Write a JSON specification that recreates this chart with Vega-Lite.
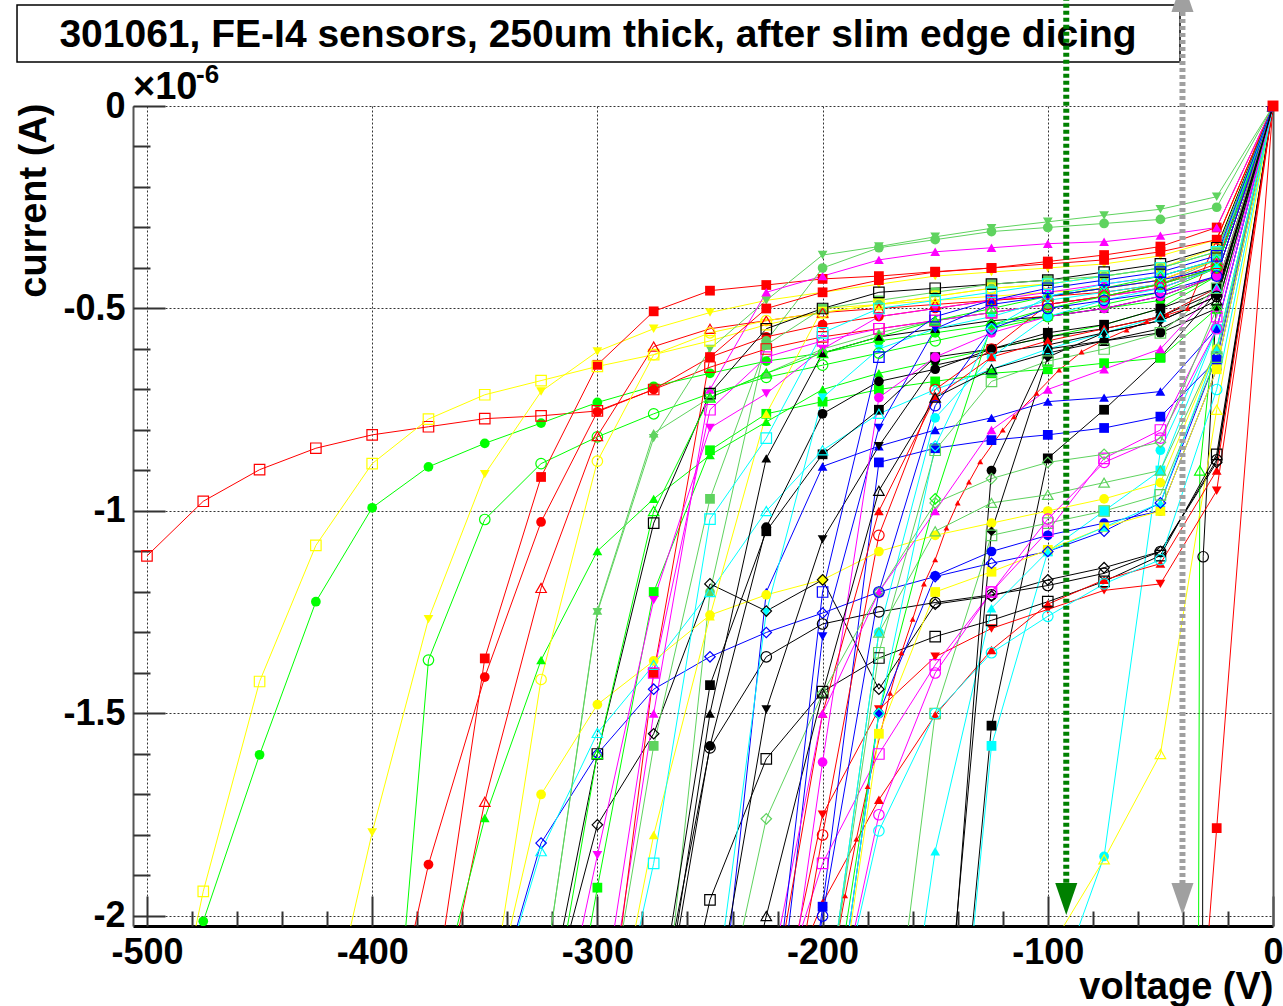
{
"$schema":"https://vega.github.io/schema/vega-lite/v6.json",
"width":1140,"height":820,
"autosize":{"type":"none"},
"padding":{"left":133,"top":106,"right":10,"bottom":80},
"background":"#ffffff",
"config":{"view":{"stroke":null},"axis":{"labelFont":"Liberation Sans","titleFont":"Liberation Sans","labelFontWeight":"bold","titleFontWeight":"bold","labelColor":"#000","titleColor":"#000"}},
"data":{"values":[
{"s":1,"v":0,"i":0},{"s":1,"v":-25,"i":-0.4},{"s":1,"v":-50,"i":-0.45},{"s":1,"v":-75,"i":-0.47},{"s":1,"v":-100,"i":-0.49},{"s":1,"v":-125,"i":-0.51},{"s":1,"v":-150,"i":-0.53},{"s":1,"v":-175,"i":-0.55},{"s":1,"v":-200,"i":-0.57},{"s":1,"v":-225,"i":-0.6},{"s":1,"v":-250,"i":-0.645},{"s":1,"v":-275,"i":-0.7},{"s":1,"v":-300,"i":-0.753},{"s":1,"v":-325,"i":-0.765},{"s":1,"v":-350,"i":-0.772},{"s":1,"v":-375,"i":-0.792},{"s":1,"v":-400,"i":-0.812},{"s":1,"v":-425,"i":-0.845},{"s":1,"v":-450,"i":-0.898},{"s":1,"v":-475,"i":-0.976},{"s":1,"v":-500,"i":-1.111},
{"s":2,"v":0,"i":0},{"s":2,"v":-25,"i":-0.36},{"s":2,"v":-50,"i":-0.4},{"s":2,"v":-75,"i":-0.42},{"s":2,"v":-100,"i":-0.44},{"s":2,"v":-125,"i":-0.45},{"s":2,"v":-150,"i":-0.47},{"s":2,"v":-175,"i":-0.49},{"s":2,"v":-200,"i":-0.51},{"s":2,"v":-225,"i":-0.54},{"s":2,"v":-250,"i":-0.58},{"s":2,"v":-275,"i":-0.614},{"s":2,"v":-300,"i":-0.643},{"s":2,"v":-325,"i":-0.678},{"s":2,"v":-350,"i":-0.713},{"s":2,"v":-375,"i":-0.773},{"s":2,"v":-400,"i":-0.883},{"s":2,"v":-425,"i":-1.085},{"s":2,"v":-450,"i":-1.421},{"s":2,"v":-475,"i":-1.939},{"s":2,"v":-500,"i":-2.6},
{"s":3,"v":0,"i":0},{"s":3,"v":-25,"i":-0.42},{"s":3,"v":-50,"i":-0.48},{"s":3,"v":-75,"i":-0.5},{"s":3,"v":-100,"i":-0.52},{"s":3,"v":-125,"i":-0.54},{"s":3,"v":-150,"i":-0.56},{"s":3,"v":-175,"i":-0.58},{"s":3,"v":-200,"i":-0.61},{"s":3,"v":-225,"i":-0.63},{"s":3,"v":-250,"i":-0.66},{"s":3,"v":-275,"i":-0.692},{"s":3,"v":-300,"i":-0.732},{"s":3,"v":-325,"i":-0.783},{"s":3,"v":-350,"i":-0.833},{"s":3,"v":-375,"i":-0.891},{"s":3,"v":-400,"i":-0.992},{"s":3,"v":-425,"i":-1.224},{"s":3,"v":-450,"i":-1.602},{"s":3,"v":-475,"i":-2.013},{"s":3,"v":-500,"i":-2.5},
{"s":4,"v":0,"i":0},{"s":4,"v":-25,"i":-0.33},{"s":4,"v":-50,"i":-0.37},{"s":4,"v":-75,"i":-0.39},{"s":4,"v":-100,"i":-0.4},{"s":4,"v":-125,"i":-0.41},{"s":4,"v":-150,"i":-0.42},{"s":4,"v":-175,"i":-0.44},{"s":4,"v":-200,"i":-0.46},{"s":4,"v":-225,"i":-0.48},{"s":4,"v":-250,"i":-0.51},{"s":4,"v":-275,"i":-0.55},{"s":4,"v":-300,"i":-0.606},{"s":4,"v":-325,"i":-0.705},{"s":4,"v":-350,"i":-0.909},{"s":4,"v":-375,"i":-1.267},{"s":4,"v":-400,"i":-1.794},{"s":4,"v":-425,"i":-2.4},
{"s":5,"v":0,"i":0},{"s":5,"v":-25,"i":-0.4},{"s":5,"v":-50,"i":-0.46},{"s":5,"v":-75,"i":-0.49},{"s":5,"v":-100,"i":-0.52},{"s":5,"v":-125,"i":-0.55},{"s":5,"v":-150,"i":-0.58},{"s":5,"v":-175,"i":-0.61},{"s":5,"v":-200,"i":-0.64},{"s":5,"v":-225,"i":-0.67},{"s":5,"v":-250,"i":-0.71},{"s":5,"v":-275,"i":-0.76},{"s":5,"v":-300,"i":-0.817},{"s":5,"v":-325,"i":-0.883},{"s":5,"v":-350,"i":-1.021},{"s":5,"v":-375,"i":-1.368},{"s":5,"v":-400,"i":-3.0},
{"s":6,"v":0,"i":0},{"s":6,"v":-25,"i":-0.3},{"s":6,"v":-50,"i":-0.347},{"s":6,"v":-75,"i":-0.368},{"s":6,"v":-100,"i":-0.384},{"s":6,"v":-125,"i":-0.4},{"s":6,"v":-150,"i":-0.409},{"s":6,"v":-175,"i":-0.42},{"s":6,"v":-200,"i":-0.427},{"s":6,"v":-225,"i":-0.442},{"s":6,"v":-250,"i":-0.456},{"s":6,"v":-275,"i":-0.507},{"s":6,"v":-300,"i":-0.639},{"s":6,"v":-325,"i":-0.916},{"s":6,"v":-350,"i":-1.364},{"s":6,"v":-375,"i":-2.3},
{"s":7,"v":0,"i":0},{"s":7,"v":-25,"i":-0.38},{"s":7,"v":-50,"i":-0.43},{"s":7,"v":-75,"i":-0.45},{"s":7,"v":-100,"i":-0.47},{"s":7,"v":-125,"i":-0.48},{"s":7,"v":-150,"i":-0.5},{"s":7,"v":-175,"i":-0.52},{"s":7,"v":-200,"i":-0.54},{"s":7,"v":-225,"i":-0.57},{"s":7,"v":-250,"i":-0.62},{"s":7,"v":-275,"i":-0.7},{"s":7,"v":-300,"i":-0.755},{"s":7,"v":-325,"i":-1.027},{"s":7,"v":-350,"i":-1.41},{"s":7,"v":-375,"i":-1.873},{"s":7,"v":-400,"i":-2.5},
{"s":8,"v":0,"i":0},{"s":8,"v":-25,"i":-0.39},{"s":8,"v":-50,"i":-0.44},{"s":8,"v":-75,"i":-0.46},{"s":8,"v":-100,"i":-0.47},{"s":8,"v":-125,"i":-0.48},{"s":8,"v":-150,"i":-0.49},{"s":8,"v":-175,"i":-0.5},{"s":8,"v":-200,"i":-0.51},{"s":8,"v":-225,"i":-0.53},{"s":8,"v":-250,"i":-0.55},{"s":8,"v":-275,"i":-0.594},{"s":8,"v":-300,"i":-0.815},{"s":8,"v":-325,"i":-1.19},{"s":8,"v":-350,"i":-1.718},{"s":8,"v":-375,"i":-2.4},
{"s":9,"v":0,"i":0},{"s":9,"v":-25,"i":-0.42},{"s":9,"v":-50,"i":-0.5},{"s":9,"v":-75,"i":-0.54},{"s":9,"v":-100,"i":-0.57},{"s":9,"v":-125,"i":-0.6},{"s":9,"v":-150,"i":-0.63},{"s":9,"v":-175,"i":-0.66},{"s":9,"v":-200,"i":-0.7},{"s":9,"v":-225,"i":-0.78},{"s":9,"v":-250,"i":-0.862},{"s":9,"v":-275,"i":-0.97},{"s":9,"v":-300,"i":-1.099},{"s":9,"v":-325,"i":-1.368},{"s":9,"v":-350,"i":-1.758},{"s":9,"v":-375,"i":-2.3},
{"s":10,"v":0,"i":0},{"s":10,"v":-25,"i":-0.38},{"s":10,"v":-50,"i":-0.44},{"s":10,"v":-75,"i":-0.47},{"s":10,"v":-100,"i":-0.49},{"s":10,"v":-125,"i":-0.51},{"s":10,"v":-150,"i":-0.53},{"s":10,"v":-175,"i":-0.56},{"s":10,"v":-200,"i":-0.6},{"s":10,"v":-225,"i":-0.66},{"s":10,"v":-250,"i":-0.72},{"s":10,"v":-275,"i":-0.808},{"s":10,"v":-300,"i":-1.246},{"s":10,"v":-325,"i":-2.2},
{"s":11,"v":0,"i":0},{"s":11,"v":-25,"i":-0.35},{"s":11,"v":-50,"i":-0.4},{"s":11,"v":-75,"i":-0.42},{"s":11,"v":-100,"i":-0.44},{"s":11,"v":-125,"i":-0.45},{"s":11,"v":-150,"i":-0.47},{"s":11,"v":-175,"i":-0.49},{"s":11,"v":-200,"i":-0.51},{"s":11,"v":-225,"i":-0.53},{"s":11,"v":-250,"i":-0.56},{"s":11,"v":-275,"i":-0.614},{"s":11,"v":-300,"i":-0.877},{"s":11,"v":-325,"i":-1.416},{"s":11,"v":-350,"i":-2.3},
{"s":12,"v":0,"i":0},{"s":12,"v":-25,"i":-0.62},{"s":12,"v":-50,"i":-0.98},{"s":12,"v":-75,"i":-1.05},{"s":12,"v":-100,"i":-1.1},{"s":12,"v":-125,"i":-1.129},{"s":12,"v":-150,"i":-1.162},{"s":12,"v":-175,"i":-1.2},{"s":12,"v":-200,"i":-1.252},{"s":12,"v":-225,"i":-1.3},{"s":12,"v":-250,"i":-1.36},{"s":12,"v":-275,"i":-1.44},{"s":12,"v":-300,"i":-1.6},{"s":12,"v":-325,"i":-1.82},{"s":12,"v":-350,"i":-2.3},
{"s":13,"v":0,"i":0},{"s":13,"v":-25,"i":-0.45},{"s":13,"v":-50,"i":-0.52},{"s":13,"v":-75,"i":-0.56},{"s":13,"v":-100,"i":-0.6},{"s":13,"v":-125,"i":-0.65},{"s":13,"v":-150,"i":-0.7},{"s":13,"v":-175,"i":-0.76},{"s":13,"v":-200,"i":-0.85},{"s":13,"v":-225,"i":-1.0},{"s":13,"v":-250,"i":-1.2},{"s":13,"v":-275,"i":-1.38},{"s":13,"v":-300,"i":-1.548},{"s":13,"v":-325,"i":-1.84},{"s":13,"v":-350,"i":-2.3},
{"s":14,"v":0,"i":0},{"s":14,"v":-25,"i":-0.88},{"s":14,"v":-50,"i":-1.1},{"s":14,"v":-75,"i":-1.14},{"s":14,"v":-100,"i":-1.17},{"s":14,"v":-125,"i":-1.21},{"s":14,"v":-150,"i":-1.23},{"s":14,"v":-175,"i":-1.44},{"s":14,"v":-200,"i":-1.17},{"s":14,"v":-225,"i":-1.247},{"s":14,"v":-250,"i":-1.18},{"s":14,"v":-275,"i":-1.55},{"s":14,"v":-300,"i":-1.775},{"s":14,"v":-325,"i":-2.3},
{"s":15,"v":0,"i":0},{"s":15,"v":-25,"i":-0.224},{"s":15,"v":-50,"i":-0.255},{"s":15,"v":-75,"i":-0.27},{"s":15,"v":-100,"i":-0.286},{"s":15,"v":-125,"i":-0.302},{"s":15,"v":-150,"i":-0.323},{"s":15,"v":-175,"i":-0.347},{"s":15,"v":-200,"i":-0.368},{"s":15,"v":-225,"i":-0.48},{"s":15,"v":-250,"i":-0.6},{"s":15,"v":-275,"i":-0.82},{"s":15,"v":-300,"i":-1.25},{"s":15,"v":-325,"i":-2.2},
{"s":16,"v":0,"i":0},{"s":16,"v":-25,"i":-0.47},{"s":16,"v":-31,"i":-1.113},{"s":16,"v":-31.5,"i":-3.0},
{"s":17,"v":0,"i":0},{"s":17,"v":-25,"i":-0.5},{"s":17,"v":-32.5,"i":-0.9},{"s":17,"v":-33.5,"i":-3.0},
{"s":18,"v":0,"i":0},{"s":18,"v":-25,"i":-1.783},{"s":18,"v":-50,"i":-3.56},
{"s":19,"v":0,"i":0},{"s":19,"v":-25,"i":-0.75},{"s":19,"v":-50,"i":-1.6},{"s":19,"v":-75,"i":-1.86},{"s":19,"v":-100,"i":-2.09},
{"s":20,"v":0,"i":0},{"s":20,"v":-25,"i":-0.55},{"s":20,"v":-50,"i":-0.85},{"s":20,"v":-75,"i":-1.853},{"s":20,"v":-100,"i":-2.24},
{"s":21,"v":0,"i":0},{"s":21,"v":-25,"i":-0.46},{"s":21,"v":-50,"i":-0.62},{"s":21,"v":-75,"i":-0.75},{"s":21,"v":-100,"i":-0.87},{"s":21,"v":-125,"i":-1.53},{"s":21,"v":-150,"i":-3.0},
{"s":22,"v":0,"i":0},{"s":22,"v":-25,"i":-0.55},{"s":22,"v":-50,"i":-0.9},{"s":22,"v":-75,"i":-1.0},{"s":22,"v":-100,"i":-1.1},{"s":22,"v":-125,"i":-1.58},{"s":22,"v":-150,"i":-3.0},
{"s":23,"v":0,"i":0},{"s":23,"v":-25,"i":-0.874},{"s":23,"v":-50,"i":-1.1},{"s":23,"v":-75,"i":-1.154},{"s":23,"v":-100,"i":-1.184},{"s":23,"v":-125,"i":-1.207},{"s":23,"v":-150,"i":-1.226},{"s":23,"v":-175,"i":-1.249},{"s":23,"v":-200,"i":-1.279},{"s":23,"v":-225,"i":-1.36},{"s":23,"v":-250,"i":-1.585},{"s":23,"v":-275,"i":-2.3},
{"s":24,"v":0,"i":0},{"s":24,"v":-25,"i":-0.86},{"s":24,"v":-50,"i":-1.11},{"s":24,"v":-75,"i":-1.174},{"s":24,"v":-100,"i":-1.224},{"s":24,"v":-125,"i":-1.27},{"s":24,"v":-150,"i":-1.31},{"s":24,"v":-175,"i":-1.363},{"s":24,"v":-200,"i":-1.446},{"s":24,"v":-225,"i":-1.612},{"s":24,"v":-250,"i":-1.96},{"s":24,"v":-275,"i":-2.6},
{"s":25,"v":0,"i":0},{"s":25,"v":-25,"i":-0.95},{"s":25,"v":-50,"i":-1.18},{"s":25,"v":-75,"i":-1.196},{"s":25,"v":-100,"i":-1.243},{"s":25,"v":-125,"i":-1.29},{"s":25,"v":-150,"i":-1.36},{"s":25,"v":-175,"i":-1.49},{"s":25,"v":-200,"i":-1.75},{"s":25,"v":-225,"i":-2.4},
{"s":26,"v":0,"i":0},{"s":26,"v":-25,"i":-0.9},{"s":26,"v":-50,"i":-1.13},{"s":26,"v":-75,"i":-1.17},{"s":26,"v":-100,"i":-1.23},{"s":26,"v":-125,"i":-1.343},{"s":26,"v":-150,"i":-1.504},{"s":26,"v":-175,"i":-1.713},{"s":26,"v":-200,"i":-1.968},{"s":26,"v":-225,"i":-2.3},
{"s":27,"v":0,"i":0},{"s":27,"v":-38,"i":-0.5},{"s":27,"v":-47,"i":-0.516},{"s":27,"v":-56,"i":-0.532},{"s":27,"v":-65,"i":-0.553},{"s":27,"v":-75,"i":-0.578},{"s":27,"v":-85,"i":-0.607},{"s":27,"v":-95,"i":-0.652},{"s":27,"v":-105,"i":-0.709},{"s":27,"v":-115,"i":-0.767},{"s":27,"v":-120,"i":-0.8},{"s":27,"v":-130,"i":-0.878},{"s":27,"v":-135,"i":-0.928},{"s":27,"v":-140,"i":-0.98},{"s":27,"v":-145,"i":-1.042},{"s":27,"v":-150,"i":-1.12},{"s":27,"v":-155,"i":-1.18},{"s":27,"v":-160,"i":-1.267},{"s":27,"v":-165,"i":-1.35},{"s":27,"v":-170,"i":-1.45},{"s":27,"v":-180,"i":-1.68},{"s":27,"v":-185,"i":-1.81},{"s":27,"v":-190,"i":-1.95},{"s":27,"v":-195,"i":-2.1},
{"s":28,"v":0,"i":0},{"s":28,"v":-25,"i":-0.627},{"s":28,"v":-50,"i":-0.767},{"s":28,"v":-75,"i":-0.795},{"s":28,"v":-100,"i":-0.812},{"s":28,"v":-125,"i":-0.825},{"s":28,"v":-150,"i":-0.845},{"s":28,"v":-175,"i":-0.88},{"s":28,"v":-200,"i":-1.977},{"s":28,"v":-225,"i":-3.0},
{"s":29,"v":0,"i":0},{"s":29,"v":-25,"i":-0.55},{"s":29,"v":-50,"i":-0.705},{"s":29,"v":-75,"i":-0.72},{"s":29,"v":-100,"i":-0.73},{"s":29,"v":-125,"i":-0.77},{"s":29,"v":-150,"i":-0.8},{"s":29,"v":-175,"i":-0.84},{"s":29,"v":-200,"i":-0.89},{"s":29,"v":-225,"i":-1.2},{"s":29,"v":-250,"i":-2.5},
{"s":30,"v":0,"i":0},{"s":30,"v":-25,"i":-0.65},{"s":30,"v":-50,"i":-1.0},{"s":30,"v":-75,"i":-1.03},{"s":30,"v":-100,"i":-1.06},{"s":30,"v":-125,"i":-1.1},{"s":30,"v":-150,"i":-1.16},{"s":30,"v":-175,"i":-1.5},{"s":30,"v":-200,"i":-2.5},
{"s":31,"v":0,"i":0},{"s":31,"v":-25,"i":-0.65},{"s":31,"v":-50,"i":-1.0},{"s":31,"v":-75,"i":-1.04},{"s":31,"v":-100,"i":-1.096},{"s":31,"v":-125,"i":-1.15},{"s":31,"v":-150,"i":-1.2},{"s":31,"v":-175,"i":-1.55},{"s":31,"v":-200,"i":-2.5},
{"s":32,"v":0,"i":0},{"s":32,"v":-25,"i":-0.6},{"s":32,"v":-50,"i":-0.93},{"s":32,"v":-75,"i":-0.97},{"s":32,"v":-100,"i":-1.0},{"s":32,"v":-125,"i":-1.03},{"s":32,"v":-150,"i":-1.06},{"s":32,"v":-175,"i":-1.1},{"s":32,"v":-200,"i":-1.17},{"s":32,"v":-225,"i":-1.207},{"s":32,"v":-250,"i":-1.257},{"s":32,"v":-275,"i":-1.37},{"s":32,"v":-300,"i":-1.478},{"s":32,"v":-325,"i":-1.7},{"s":32,"v":-350,"i":-2.3},
{"s":33,"v":0,"i":0},{"s":33,"v":-25,"i":-0.5},{"s":33,"v":-50,"i":-0.622},{"s":33,"v":-75,"i":-0.635},{"s":33,"v":-100,"i":-0.65},{"s":33,"v":-125,"i":-0.66},{"s":33,"v":-150,"i":-0.68},{"s":33,"v":-175,"i":-0.7},{"s":33,"v":-200,"i":-0.73},{"s":33,"v":-225,"i":-0.76},{"s":33,"v":-250,"i":-0.85},{"s":33,"v":-275,"i":-1.2},{"s":33,"v":-300,"i":-1.93},{"s":33,"v":-325,"i":-2.7},
{"s":34,"v":0,"i":0},{"s":34,"v":-25,"i":-0.6},{"s":34,"v":-50,"i":-0.9},{"s":34,"v":-75,"i":-0.93},{"s":34,"v":-100,"i":-0.96},{"s":34,"v":-125,"i":-0.98},{"s":34,"v":-150,"i":-1.05},{"s":34,"v":-175,"i":-1.3},{"s":34,"v":-200,"i":-2.3},
{"s":35,"v":0,"i":0},{"s":35,"v":-25,"i":-0.62},{"s":35,"v":-50,"i":-0.96},{"s":35,"v":-75,"i":-1.0},{"s":35,"v":-100,"i":-1.03},{"s":35,"v":-125,"i":-1.06},{"s":35,"v":-150,"i":-1.5},{"s":35,"v":-175,"i":-2.6},
{"s":36,"v":0,"i":0},{"s":36,"v":-25,"i":-0.6},{"s":36,"v":-50,"i":-0.98},{"s":36,"v":-75,"i":-1.04},{"s":36,"v":-100,"i":-1.1},{"s":36,"v":-125,"i":-1.24},{"s":36,"v":-150,"i":-1.84},{"s":36,"v":-175,"i":-2.8},
{"s":37,"v":0,"i":0},{"s":37,"v":-25,"i":-0.7},{"s":37,"v":-50,"i":-1.12},{"s":37,"v":-75,"i":-1.18},{"s":37,"v":-100,"i":-1.26},{"s":37,"v":-125,"i":-1.35},{"s":37,"v":-150,"i":-1.5},{"s":37,"v":-175,"i":-1.79},{"s":37,"v":-200,"i":-2.4},
{"s":38,"v":0,"i":0},{"s":38,"v":-25,"i":-0.55},{"s":38,"v":-50,"i":-0.82},{"s":38,"v":-75,"i":-0.88},{"s":38,"v":-100,"i":-1.02},{"s":38,"v":-125,"i":-1.2},{"s":38,"v":-150,"i":-1.4},{"s":38,"v":-175,"i":-1.75},{"s":38,"v":-200,"i":-2.4},
{"s":39,"v":0,"i":0},{"s":39,"v":-25,"i":-0.52},{"s":39,"v":-50,"i":-0.8},{"s":39,"v":-75,"i":-0.87},{"s":39,"v":-100,"i":-1.05},{"s":39,"v":-125,"i":-1.2},{"s":39,"v":-150,"i":-1.38},{"s":39,"v":-175,"i":-1.6},{"s":39,"v":-200,"i":-1.87},{"s":39,"v":-225,"i":-2.3},
{"s":40,"v":0,"i":0},{"s":40,"v":-25,"i":-0.3},{"s":40,"v":-50,"i":-0.32},{"s":40,"v":-75,"i":-0.335},{"s":40,"v":-100,"i":-0.34},{"s":40,"v":-125,"i":-0.35},{"s":40,"v":-150,"i":-0.36},{"s":40,"v":-175,"i":-0.38},{"s":40,"v":-200,"i":-0.42},{"s":40,"v":-225,"i":-0.46},{"s":40,"v":-250,"i":-0.7},{"s":40,"v":-275,"i":-1.5},{"s":40,"v":-300,"i":-2.4},
{"s":41,"v":0,"i":0},{"s":41,"v":-25,"i":-0.25},{"s":41,"v":-50,"i":-0.28},{"s":41,"v":-75,"i":-0.29},{"s":41,"v":-100,"i":-0.3},{"s":41,"v":-125,"i":-0.31},{"s":41,"v":-150,"i":-0.33},{"s":41,"v":-175,"i":-0.35},{"s":41,"v":-200,"i":-0.4},{"s":41,"v":-225,"i":-0.58},{"s":41,"v":-250,"i":-1.2},{"s":41,"v":-275,"i":-2.5},
{"s":42,"v":0,"i":0},{"s":42,"v":-25,"i":-0.33},{"s":42,"v":-50,"i":-0.36},{"s":42,"v":-75,"i":-0.38},{"s":42,"v":-100,"i":-0.39},{"s":42,"v":-125,"i":-0.4},{"s":42,"v":-150,"i":-0.41},{"s":42,"v":-175,"i":-0.43},{"s":42,"v":-200,"i":-0.46},{"s":42,"v":-225,"i":-0.5},{"s":42,"v":-250,"i":-0.62},{"s":42,"v":-275,"i":-1.4},{"s":42,"v":-300,"i":-2.5},
{"s":43,"v":0,"i":0},{"s":43,"v":-25,"i":-0.38},{"s":43,"v":-50,"i":-0.43},{"s":43,"v":-75,"i":-0.45},{"s":43,"v":-100,"i":-0.46},{"s":43,"v":-125,"i":-0.47},{"s":43,"v":-150,"i":-0.48},{"s":43,"v":-175,"i":-0.49},{"s":43,"v":-200,"i":-0.5},{"s":43,"v":-225,"i":-0.76},{"s":43,"v":-250,"i":-1.26},{"s":43,"v":-275,"i":-1.8},{"s":43,"v":-300,"i":-2.5},
{"s":44,"v":0,"i":0},{"s":44,"v":-25,"i":-0.35},{"s":44,"v":-50,"i":-0.39},{"s":44,"v":-75,"i":-0.41},{"s":44,"v":-100,"i":-0.43},{"s":44,"v":-125,"i":-0.44},{"s":44,"v":-150,"i":-0.45},{"s":44,"v":-175,"i":-0.46},{"s":44,"v":-200,"i":-0.5},{"s":44,"v":-225,"i":-0.55},{"s":44,"v":-250,"i":-0.71},{"s":44,"v":-275,"i":-1.03},{"s":44,"v":-300,"i":-1.6},{"s":44,"v":-325,"i":-2.3},
{"s":45,"v":0,"i":0},{"s":45,"v":-25,"i":-0.42},{"s":45,"v":-50,"i":-0.47},{"s":45,"v":-75,"i":-0.5},{"s":45,"v":-100,"i":-0.52},{"s":45,"v":-125,"i":-0.53},{"s":45,"v":-150,"i":-0.55},{"s":45,"v":-175,"i":-0.57},{"s":45,"v":-200,"i":-0.61},{"s":45,"v":-225,"i":-0.87},{"s":45,"v":-250,"i":-1.5},{"s":45,"v":-275,"i":-2.4},
{"s":46,"v":0,"i":0},{"s":46,"v":-25,"i":-0.46},{"s":46,"v":-50,"i":-0.52},{"s":46,"v":-75,"i":-0.55},{"s":46,"v":-100,"i":-0.57},{"s":46,"v":-125,"i":-0.6},{"s":46,"v":-150,"i":-0.65},{"s":46,"v":-175,"i":-0.68},{"s":46,"v":-200,"i":-0.76},{"s":46,"v":-225,"i":-1.04},{"s":46,"v":-250,"i":-1.58},{"s":46,"v":-275,"i":-2.4},
{"s":47,"v":0,"i":0},{"s":47,"v":-25,"i":-0.45},{"s":47,"v":-50,"i":-0.5},{"s":47,"v":-75,"i":-0.54},{"s":47,"v":-100,"i":-0.56},{"s":47,"v":-125,"i":-0.6},{"s":47,"v":-150,"i":-0.62},{"s":47,"v":-175,"i":-0.75},{"s":47,"v":-200,"i":-0.86},{"s":47,"v":-225,"i":-1.05},{"s":47,"v":-250,"i":-1.43},{"s":47,"v":-275,"i":-2.3},
{"s":48,"v":0,"i":0},{"s":48,"v":-25,"i":-0.47},{"s":48,"v":-50,"i":-0.53},{"s":48,"v":-75,"i":-0.56},{"s":48,"v":-100,"i":-0.59},{"s":48,"v":-125,"i":-0.61},{"s":48,"v":-150,"i":-0.64},{"s":48,"v":-175,"i":-0.84},{"s":48,"v":-200,"i":-1.07},{"s":48,"v":-225,"i":-1.49},{"s":48,"v":-250,"i":-2.3},
{"s":49,"v":0,"i":0},{"s":49,"v":-25,"i":-0.38},{"s":49,"v":-50,"i":-0.42},{"s":49,"v":-75,"i":-0.44},{"s":49,"v":-100,"i":-0.46},{"s":49,"v":-125,"i":-0.48},{"s":49,"v":-150,"i":-0.5},{"s":49,"v":-175,"i":-0.52},{"s":49,"v":-200,"i":-0.6},{"s":49,"v":-225,"i":-0.71},{"s":49,"v":-250,"i":-0.795},{"s":49,"v":-275,"i":-1.22},{"s":49,"v":-300,"i":-1.85},{"s":49,"v":-325,"i":-2.5},
{"s":50,"v":0,"i":0},{"s":50,"v":-25,"i":-0.4},{"s":50,"v":-50,"i":-0.45},{"s":50,"v":-75,"i":-0.47},{"s":50,"v":-100,"i":-0.49},{"s":50,"v":-125,"i":-0.51},{"s":50,"v":-150,"i":-0.53},{"s":50,"v":-175,"i":-0.55},{"s":50,"v":-200,"i":-0.58},{"s":50,"v":-225,"i":-0.62},{"s":50,"v":-250,"i":-0.75},{"s":50,"v":-275,"i":-1.4},{"s":50,"v":-300,"i":-2.3},
{"s":51,"v":0,"i":0},{"s":51,"v":-25,"i":-0.36},{"s":51,"v":-50,"i":-0.4},{"s":51,"v":-75,"i":-0.42},{"s":51,"v":-100,"i":-0.44},{"s":51,"v":-125,"i":-0.46},{"s":51,"v":-150,"i":-0.48},{"s":51,"v":-175,"i":-0.5},{"s":51,"v":-200,"i":-0.56},{"s":51,"v":-225,"i":-0.82},{"s":51,"v":-250,"i":-1.02},{"s":51,"v":-275,"i":-1.87},{"s":51,"v":-300,"i":-2.5},
{"s":52,"v":0,"i":0},{"s":52,"v":-25,"i":-0.4},{"s":52,"v":-50,"i":-0.44},{"s":52,"v":-75,"i":-0.46},{"s":52,"v":-100,"i":-0.48},{"s":52,"v":-125,"i":-0.52},{"s":52,"v":-150,"i":-0.55},{"s":52,"v":-175,"i":-0.6},{"s":52,"v":-200,"i":-0.72},{"s":52,"v":-225,"i":-1.25},{"s":52,"v":-250,"i":-2.3},
{"s":53,"v":0,"i":0},{"s":53,"v":-25,"i":-0.38},{"s":53,"v":-50,"i":-0.42},{"s":53,"v":-75,"i":-0.45},{"s":53,"v":-100,"i":-0.47},{"s":53,"v":-125,"i":-0.5},{"s":53,"v":-150,"i":-0.53},{"s":53,"v":-175,"i":-0.57},{"s":53,"v":-200,"i":-0.61},{"s":53,"v":-225,"i":-0.66},{"s":53,"v":-250,"i":-0.72},{"s":53,"v":-275,"i":-1.0},{"s":53,"v":-300,"i":-1.6},{"s":53,"v":-325,"i":-2.4},
{"s":54,"v":0,"i":0},{"s":54,"v":-25,"i":-0.36},{"s":54,"v":-50,"i":-0.4},{"s":54,"v":-75,"i":-0.42},{"s":54,"v":-100,"i":-0.43},{"s":54,"v":-125,"i":-0.44},{"s":54,"v":-150,"i":-0.46},{"s":54,"v":-175,"i":-0.48},{"s":54,"v":-200,"i":-0.5},{"s":54,"v":-225,"i":-0.59},{"s":54,"v":-250,"i":-0.97},{"s":54,"v":-275,"i":-1.58},{"s":54,"v":-300,"i":-2.4},
{"s":55,"v":0,"i":0},{"s":55,"v":-25,"i":-0.4},{"s":55,"v":-50,"i":-0.44},{"s":55,"v":-75,"i":-0.47},{"s":55,"v":-100,"i":-0.49},{"s":55,"v":-125,"i":-0.6},{"s":55,"v":-150,"i":-0.7},{"s":55,"v":-175,"i":-1.06},{"s":55,"v":-200,"i":-1.8},{"s":55,"v":-225,"i":-2.6},
{"s":56,"v":0,"i":0},{"s":56,"v":-25,"i":-0.4},{"s":56,"v":-50,"i":-0.43},{"s":56,"v":-75,"i":-0.45},{"s":56,"v":-100,"i":-0.47},{"s":56,"v":-125,"i":-0.49},{"s":56,"v":-150,"i":-0.55},{"s":56,"v":-175,"i":-0.795},{"s":56,"v":-200,"i":-1.31},{"s":56,"v":-225,"i":-2.5},
{"s":57,"v":0,"i":0},{"s":57,"v":-25,"i":-0.42},{"s":57,"v":-50,"i":-0.47},{"s":57,"v":-75,"i":-0.5},{"s":57,"v":-100,"i":-0.52},{"s":57,"v":-125,"i":-0.56},{"s":57,"v":-150,"i":-0.62},{"s":57,"v":-175,"i":-0.72},{"s":57,"v":-200,"i":-1.62},{"s":57,"v":-225,"i":-2.6},
{"s":58,"v":0,"i":0},{"s":58,"v":-25,"i":-0.4},{"s":58,"v":-50,"i":-0.45},{"s":58,"v":-75,"i":-0.48},{"s":58,"v":-100,"i":-0.52},{"s":58,"v":-125,"i":-0.62},{"s":58,"v":-150,"i":-0.77},{"s":58,"v":-175,"i":-1.3},{"s":58,"v":-200,"i":-2.3},
{"s":59,"v":0,"i":0},{"s":59,"v":-25,"i":-0.4},{"s":59,"v":-50,"i":-0.44},{"s":59,"v":-75,"i":-0.47},{"s":59,"v":-100,"i":-0.5},{"s":59,"v":-125,"i":-0.54},{"s":59,"v":-150,"i":-0.97},{"s":59,"v":-175,"i":-1.5},{"s":59,"v":-200,"i":-2.4},
{"s":60,"v":0,"i":0},{"s":60,"v":-25,"i":-0.45},{"s":60,"v":-50,"i":-0.52},{"s":60,"v":-75,"i":-0.55},{"s":60,"v":-100,"i":-0.58},{"s":60,"v":-125,"i":-0.62},{"s":60,"v":-150,"i":-0.72},{"s":60,"v":-175,"i":-1.0},{"s":60,"v":-200,"i":-1.5},{"s":60,"v":-225,"i":-2.3},
{"s":61,"v":0,"i":0},{"s":61,"v":-25,"i":-0.5},{"s":61,"v":-50,"i":-0.83},{"s":61,"v":-75,"i":-0.86},{"s":61,"v":-100,"i":-0.88},{"s":61,"v":-125,"i":-0.92},{"s":61,"v":-150,"i":-0.98},{"s":61,"v":-175,"i":-1.2},{"s":61,"v":-200,"i":-1.45},{"s":61,"v":-225,"i":-1.76},{"s":61,"v":-250,"i":-2.4},
{"s":62,"v":0,"i":0},{"s":62,"v":-25,"i":-0.42},{"s":62,"v":-50,"i":-0.46},{"s":62,"v":-75,"i":-0.48},{"s":62,"v":-100,"i":-0.5},{"s":62,"v":-125,"i":-0.55},{"s":62,"v":-150,"i":-0.74},{"s":62,"v":-175,"i":-1.2},{"s":62,"v":-200,"i":-2.0},{"s":62,"v":-225,"i":-2.8},
{"s":63,"v":0,"i":0},{"s":63,"v":-25,"i":-0.45},{"s":63,"v":-50,"i":-0.6},{"s":63,"v":-75,"i":-0.65},{"s":63,"v":-100,"i":-0.7},{"s":63,"v":-125,"i":-0.8},{"s":63,"v":-150,"i":-1.0},{"s":63,"v":-175,"i":-1.2},{"s":63,"v":-200,"i":-1.5},{"s":63,"v":-225,"i":-2.2},
{"s":64,"v":0,"i":0},{"s":64,"v":-25,"i":-0.38},{"s":64,"v":-50,"i":-0.42},{"s":64,"v":-75,"i":-0.44},{"s":64,"v":-100,"i":-0.47},{"s":64,"v":-125,"i":-0.55},{"s":64,"v":-150,"i":-0.84},{"s":64,"v":-175,"i":-1.5},{"s":64,"v":-200,"i":-2.5},
{"s":65,"v":0,"i":0},{"s":65,"v":-25,"i":-0.48},{"s":65,"v":-50,"i":-0.55},{"s":65,"v":-75,"i":-0.58},{"s":65,"v":-100,"i":-0.61},{"s":65,"v":-125,"i":-0.65},{"s":65,"v":-150,"i":-0.72},{"s":65,"v":-175,"i":-0.95},{"s":65,"v":-200,"i":-1.45},{"s":65,"v":-225,"i":-2.0},{"s":65,"v":-250,"i":-2.6},
{"s":66,"v":0,"i":0},{"s":66,"v":-25,"i":-0.45},{"s":66,"v":-50,"i":-0.56},{"s":66,"v":-75,"i":-0.6},{"s":66,"v":-100,"i":-0.63},{"s":66,"v":-125,"i":-0.68},{"s":66,"v":-150,"i":-0.85},{"s":66,"v":-175,"i":-1.35},{"s":66,"v":-200,"i":-2.3},
{"s":67,"v":0,"i":0},{"s":67,"v":-25,"i":-0.37},{"s":67,"v":-50,"i":-0.41},{"s":67,"v":-75,"i":-0.43},{"s":67,"v":-100,"i":-0.45},{"s":67,"v":-125,"i":-0.48},{"s":67,"v":-150,"i":-0.52},{"s":67,"v":-175,"i":-0.62},{"s":67,"v":-200,"i":-1.2},{"s":67,"v":-225,"i":-2.4},
{"s":68,"v":0,"i":0},{"s":68,"v":-25,"i":-0.5},{"s":68,"v":-50,"i":-0.56},{"s":68,"v":-75,"i":-0.58},{"s":68,"v":-100,"i":-0.6},{"s":68,"v":-125,"i":-0.9},{"s":68,"v":-150,"i":-2.7},
{"s":69,"v":0,"i":0},{"s":69,"v":-25,"i":-0.47},{"s":69,"v":-50,"i":-0.53},{"s":69,"v":-75,"i":-0.56},{"s":69,"v":-100,"i":-0.62},{"s":69,"v":-125,"i":-1.05},{"s":69,"v":-150,"i":-2.6}
]},
"resolve":{"axis":{"x":"independent","y":"independent"}},
"layer":[
{"data":{"values":[{}]},"mark":{"type":"rect","fill":"#ffffff","stroke":"#000000","strokeWidth":1.5},
 "encoding":{"x":{"datum":-557.7,"type":"quantitative","scale":{"domain":[-506.2,0],"nice":false,"zero":false},"axis":null},"x2":{"datum":-41.3},
  "y":{"datum":0.2494,"type":"quantitative","scale":{"domain":[-2.0247,0],"nice":false,"zero":false},"axis":null},"y2":{"datum":0.1086}}},
{"data":{"values":[{}]},"mark":{"type":"text","text":"301061, FE-I4 sensors, 250um thick, after slim edge dicing","font":"Liberation Sans","fontWeight":"bold","fontSize":39,"align":"center","baseline":"middle","color":"#000"},
 "encoding":{"x":{"datum":-299.7,"type":"quantitative","axis":null},"y":{"datum":0.1753,"type":"quantitative","axis":null}}},
{"mark":{"type":"line","strokeWidth":1,"clip":true},
 "encoding":{
  "x":{"field":"v","type":"quantitative","scale":{"domain":[-506.2,0],"nice":false,"zero":false},
   "axis":{"orient":"bottom","values":[-500,-400,-300,-200,-100,0],"ticks":false,"grid":true,"gridColor":"#333","gridDash":[2,2],"gridWidth":1,"domain":true,"domainColor":"#000","domainWidth":3,"labelFontSize":36,"labelPadding":9,"labelFlush":false,"labelOverlap":false,"labelExpr":"replace(format(datum.value,'~g'),'−','-')","title":"voltage (V)","titleFontSize":38,"titleAnchor":"end","titleAlign":"right","titleX":1140,"titleY":72,"titleBaseline":"alphabetic"}},
  "y":{"field":"i","type":"quantitative","scale":{"domain":[-2.0247,0],"nice":false,"zero":false},
   "axis":{"orient":"left","values":[0,-0.5,-1,-1.5,-2],"ticks":false,"grid":true,"gridColor":"#333","gridDash":[2,2],"gridWidth":1,"domain":true,"domainColor":"#555","domainWidth":2,"labelFontSize":36,"labelPadding":8,"labelFlush":false,"labelOverlap":false,"labelExpr":"replace(format(datum.value,'~g'),'−','-')","title":"current (A)","titleFontSize":38,"titleAngle":-90,"titleAnchor":"end","titleAlign":"right","titleBaseline":"middle","titleX":-99,"titleY":-3}},
  "color":{"field":"s","type":"nominal","legend":null,"scale":{"domain":[1,2,3,4,5,6,7,8,9,10,11,12,13,14,15,16,17,18,19,20,21,22,23,24,25,26,27,28,29,30,31,32,33,34,35,36,37,38,39,40,41,42,43,44,45,46,47,48,49,50,51,52,53,54,55,56,57,58,59,60,61,62,63,64,65,66,67,68,69],
   "range":["#ff0000","#ffff00","#00ff00","#ffff00","#00ff00","#ff0000","#ff0000","#ff0000","#00ff00","#5fd35f","#ffff00","#0000ff","#00ffff","#000000","#5fd35f","#000000","#00ff00","#ff0000","#ffff00","#00ffff","#000000","#00ffff","#000000","#000000","#ff0000","#ff0000","#ff0000","#0000ff","#0000ff","#0000ff","#ffff00","#ffff00","#00ff00","#5fd35f","#5fd35f","#00ffff","#00ffff","#ff00ff","#ff00ff","#ff00ff","#5fd35f","#ff0000","#ffff00","#000000","#000000","#000000","#000000","#000000","#ff00ff","#ff00ff","#00ffff","#00ffff","#00ff00","#5fd35f","#ff0000","#0000ff","#ff00ff","#00ffff","#00ff00","#ff0000","#5fd35f","#0000ff","#ff00ff","#00ffff","#000000","#5fd35f","#0000ff","#000000","#000000"]}}}},
{"transform":[{"filter":{"field":"s","oneOf":[3,4,6,7,9,10,15,18,20,21,22,25,26,27,28,29,30,31,32,33,36,40,41,42,43,45,46,47,48,49,52,54,56,57,58,60,63,68,69]}}],
 "mark":{"type":"point","filled":true,"opacity":1,"clip":true},
 "encoding":{
  "x":{"field":"v","type":"quantitative","scale":{"domain":[-506.2,0],"nice":false,"zero":false},
   "axis":{"orient":"bottom","values":[-500,-400,-300,-200,-100,0],"ticks":true,"tickSize":-30,"tickWidth":2,"tickColor":"#333","labels":false,"domain":false,"grid":false,"title":null}},
  "y":{"field":"i","type":"quantitative","scale":{"domain":[-2.0247,0],"nice":false,"zero":false},
   "axis":{"orient":"left","values":[0,-0.5,-1,-1.5,-2],"ticks":true,"tickSize":-32,"tickWidth":2,"tickColor":"#333","labels":false,"domain":false,"grid":false,"title":null}},
  "color":{"field":"s","type":"nominal","legend":null},
  "shape":{"field":"s","type":"nominal","legend":null,"scale":{"domain":[1,2,3,4,5,6,7,8,9,10,11,12,13,14,15,16,17,18,19,20,21,22,23,24,25,26,27,28,29,30,31,32,33,34,35,36,37,38,39,40,41,42,43,44,45,46,47,48,49,50,51,52,53,54,55,56,57,58,59,60,61,62,63,64,65,66,67,68,69],
   "range":["square","square","circle","triangle-down","circle","square","circle","triangle-up","triangle-up","triangle-up","circle","diamond","triangle-up","diamond","triangle-down","circle","triangle-up","square","triangle-up","circle","square","square","circle","square","triangle-down","triangle-up","triangle-up","square","triangle-up","circle","square","circle","square","triangle-up","square","triangle-up","circle","circle","square","triangle-up","circle","square","triangle-up","square","triangle-up","circle","square","triangle-down","triangle-down","square","square","triangle-down","triangle-up","square","circle","triangle-down","circle","circle","diamond","triangle-up","diamond","circle","triangle-up","diamond","triangle-up","square","square","circle","diamond"]}},
  "size":{"condition":{"test":"datum.s===27","value":35},"value":95}}},
{"transform":[{"filter":{"field":"s","oneOf":[1,2,5,8,11,12,13,14,16,17,19,23,24,34,35,37,38,39,44,50,51,53,55,59,61,62,64,65,66,67]}}],
 "mark":{"type":"point","filled":false,"strokeWidth":1.2,"opacity":1,"size":110,"clip":true},
 "encoding":{
  "x":{"field":"v","type":"quantitative","scale":{"domain":[-506.2,0],"nice":false,"zero":false},
   "axis":{"orient":"bottom","values":[-480,-460,-440,-420,-380,-360,-340,-320,-280,-260,-240,-220,-180,-160,-140,-120,-80,-60,-40,-20],"ticks":true,"tickSize":-15,"tickWidth":2,"tickColor":"#333","labels":false,"domain":false,"grid":false,"title":null}},
  "y":{"field":"i","type":"quantitative","scale":{"domain":[-2.0247,0],"nice":false,"zero":false},
   "axis":{"orient":"left","values":[-0.1,-0.2,-0.3,-0.4,-0.6,-0.7,-0.8,-0.9,-1.1,-1.2,-1.3,-1.4,-1.6,-1.7,-1.8,-1.9],"ticks":true,"tickSize":-17,"tickWidth":2,"tickColor":"#333","labels":false,"domain":false,"grid":false,"title":null}},
  "color":{"field":"s","type":"nominal","legend":null},
  "shape":{"field":"s","type":"nominal","legend":null}}},
{"transform":[{"filter":"datum.s===18 && datum.v===0"}],
 "mark":{"type":"point","filled":true,"opacity":1,"size":120,"clip":false},
 "encoding":{
  "x":{"field":"v","type":"quantitative","axis":null},
  "y":{"field":"i","type":"quantitative","axis":null},
  "color":{"field":"s","type":"nominal","legend":null},
  "shape":{"field":"s","type":"nominal","legend":null}}},
{"data":{"values":[{}]},"mark":{"type":"rule","color":"#008000","strokeWidth":6,"strokeDash":[4,3]},
 "encoding":{"x":{"datum":-91.8,"type":"quantitative","axis":null},
  "y":{"datum":0.27,"type":"quantitative","axis":{"orient":"right","ticks":false,"labels":false,"grid":false,"domain":true,"domainColor":"#555","domainWidth":2,"title":null}},"y2":{"datum":-1.923}}},
{"data":{"values":[{}]},"mark":{"type":"rule","color":"#a0a0a0","strokeWidth":6,"strokeDash":[4,3]},
 "encoding":{"x":{"datum":-40.2,"type":"quantitative","axis":null},"y":{"datum":0.232,"type":"quantitative","axis":null},"y2":{"datum":-1.923}}},
{"data":{"values":[{}]},"mark":{"type":"point","shape":"M-0.69,-1L0.69,-1L0,1Z","size":1024,"filled":true,"color":"#008000","opacity":1,"strokeWidth":0},
 "encoding":{"x":{"datum":-91.8,"type":"quantitative","axis":null},"y":{"datum":-1.958,"type":"quantitative","axis":null}}},
{"data":{"values":[{}]},"mark":{"type":"point","shape":"M-0.69,-1L0.69,-1L0,1Z","size":1024,"filled":true,"color":"#a0a0a0","opacity":1,"strokeWidth":0},
 "encoding":{"x":{"datum":-40.2,"type":"quantitative","axis":null},"y":{"datum":-1.958,"type":"quantitative","axis":null}}},
{"data":{"values":[{}]},"mark":{"type":"point","shape":"M-0.69,1L0.69,1L0,-1Z","size":1024,"filled":true,"color":"#a0a0a0","opacity":1,"strokeWidth":0},
 "encoding":{"x":{"datum":-40.2,"type":"quantitative","axis":null},"y":{"datum":0.2716,"type":"quantitative","axis":null}}},
{"data":{"values":[{}]},"mark":{"type":"text","text":"×10","font":"Liberation Sans","fontWeight":"bold","fontSize":38,"align":"left","baseline":"alphabetic","color":"#000"},
 "encoding":{"x":{"datum":-506.2,"type":"quantitative","axis":null},"y":{"datum":0.0173,"type":"quantitative","axis":null}}},
{"data":{"values":[{}]},"mark":{"type":"text","text":"-6","font":"Liberation Sans","fontWeight":"bold","fontSize":26,"align":"left","baseline":"alphabetic","color":"#000"},
 "encoding":{"x":{"datum":-478.2,"type":"quantitative","axis":null},"y":{"datum":0.0568,"type":"quantitative","axis":null}}}
]
}
